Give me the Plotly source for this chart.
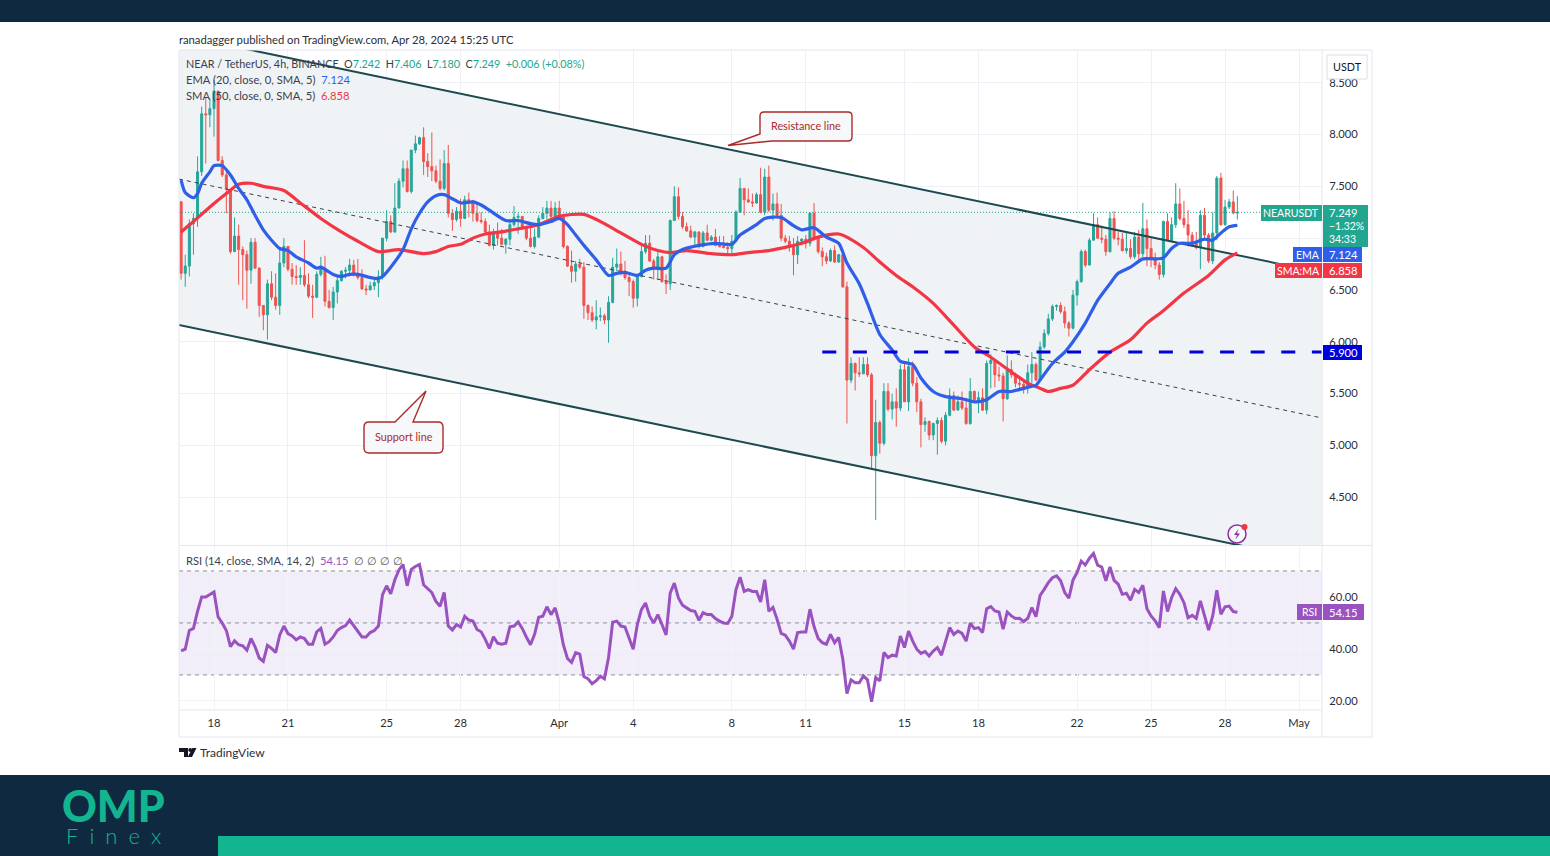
import plotly.graph_objects as go
from datetime import datetime, timedelta

FIRST_CANDLE = datetime(2024, 3, 16, 16, 0)
FIRST_OPEN = 7.35

closes = [
6.66,6.73,7.14,7.19,7.64,8.20,8.19,8.25,8.42,7.75,
7.61,7.47,6.87,7.02,6.89,6.84,6.69,6.96,6.71,6.35,
6.26,6.56,6.43,6.35,6.76,6.92,6.70,6.63,6.62,6.64,
6.55,6.44,6.43,6.65,6.71,6.39,6.33,6.48,6.59,6.68,
6.69,6.74,6.66,6.62,6.51,6.50,6.54,6.57,6.63,7.00,
7.16,7.06,7.29,7.55,7.67,7.45,7.85,7.91,7.97,7.74,
7.69,7.65,7.55,7.48,7.72,7.24,7.18,7.26,7.19,7.37,
7.36,7.24,7.17,7.16,7.06,6.93,7.06,7.00,6.94,6.99,
7.13,7.20,7.21,7.11,7.00,6.92,7.01,7.19,7.24,7.29,
7.21,7.29,7.21,6.92,6.73,6.68,6.75,6.72,6.35,6.28,
6.21,6.24,6.25,6.21,6.38,6.72,6.75,6.68,6.62,6.58,
6.42,6.63,6.87,6.95,6.78,6.72,6.82,6.58,6.56,7.17,
7.40,7.21,7.11,7.07,7.01,7.06,6.92,7.05,6.98,7.01,
6.93,6.92,6.91,6.90,6.97,7.25,7.48,7.37,7.35,7.34,
7.42,7.25,7.59,7.27,7.33,7.22,7.00,6.97,6.92,6.84,
6.97,6.99,6.95,7.24,7.00,6.87,6.82,6.78,6.88,6.77,
6.84,6.53,5.63,5.79,5.70,5.69,5.78,5.68,4.90,5.22,
5.02,5.52,5.35,5.42,5.36,5.73,5.42,5.76,5.60,5.42,
5.20,5.23,5.10,5.21,5.24,5.04,5.29,5.48,5.34,5.42,
5.36,5.21,5.52,5.44,5.46,5.34,5.79,5.82,5.68,5.67,
5.45,5.73,5.68,5.60,5.59,5.55,5.70,5.78,5.63,5.95,
6.08,6.22,6.34,6.35,6.29,6.18,6.13,6.45,6.58,6.87,
6.74,6.98,7.13,7.00,6.99,6.87,7.19,7.00,6.99,6.88,
6.90,6.82,7.01,6.85,7.09,6.90,6.80,6.74,6.65,7.16,
6.98,7.13,7.33,7.19,7.13,7.03,6.95,6.91,7.22,7.03,
6.78,7.05,7.58,7.13,7.30,7.35,7.242,7.249]

highs = [
7.36,6.84,7.18,7.24,7.79,8.27,8.35,8.35,8.53,8.40,
7.79,7.66,7.46,7.20,7.13,6.92,6.88,7.00,7.00,6.72,
6.35,6.60,6.68,6.66,6.90,7.00,6.90,6.76,6.74,6.72,
6.98,6.66,6.55,6.68,6.82,6.83,6.50,6.53,6.63,6.69,
6.72,6.80,6.79,6.80,6.70,6.55,6.58,6.61,6.69,7.00,
7.27,7.22,7.53,7.58,7.75,7.75,7.85,7.99,7.98,8.07,
7.82,8.02,7.70,7.76,7.85,7.90,7.28,7.30,7.38,7.41,
7.44,7.37,7.33,7.25,7.19,7.13,7.09,7.15,7.09,7.00,
7.18,7.31,7.24,7.21,7.12,7.11,7.09,7.22,7.30,7.36,
7.36,7.35,7.36,7.21,6.93,6.88,6.78,6.80,6.77,6.36,
6.34,6.40,6.33,6.27,6.44,6.81,6.90,6.87,6.78,6.67,
6.60,6.65,6.93,7.03,7.03,6.80,6.87,6.83,6.65,7.18,
7.50,7.49,7.25,7.15,7.12,7.07,7.05,7.07,7.13,7.03,
7.09,7.02,7.02,6.96,7.03,7.27,7.58,7.48,7.48,7.43,
7.44,7.68,7.67,7.70,7.43,7.44,7.33,7.03,7.02,7.00,
7.02,7.00,7.03,7.25,7.34,7.00,6.91,6.86,6.90,6.93,
6.85,6.85,6.58,5.85,5.80,5.85,5.85,5.85,5.70,5.44,
5.24,5.60,5.60,5.50,5.55,5.78,5.80,5.84,5.81,5.66,
5.45,5.27,5.24,5.22,5.27,5.27,5.32,5.55,5.52,5.48,
5.52,5.46,5.65,5.53,5.52,5.55,5.82,5.88,5.78,5.76,
5.70,5.87,5.82,5.70,5.66,5.62,5.78,5.90,5.80,6.00,
6.12,6.27,6.36,6.36,6.38,6.34,6.20,6.50,6.60,6.89,
6.89,7.00,7.24,7.20,7.12,7.03,7.25,7.26,7.06,7.05,
7.06,6.99,7.06,7.08,7.34,7.18,7.00,6.86,6.77,7.17,
7.24,7.20,7.53,7.48,7.36,7.27,7.06,7.06,7.27,7.29,
7.05,7.25,7.60,7.63,7.37,7.38,7.46,7.406]

lows = [
6.60,6.53,6.63,6.84,7.11,7.60,7.72,8.07,7.98,7.74,
7.59,7.24,6.85,6.87,6.55,6.40,6.32,6.56,6.71,6.24,
6.11,6.02,6.40,6.31,6.26,6.72,6.68,6.55,6.55,6.55,
6.53,6.42,6.23,6.42,6.63,6.34,6.32,6.21,6.37,6.58,
6.61,6.63,6.63,6.60,6.50,6.45,6.50,6.50,6.43,6.60,
6.97,7.05,7.05,7.29,7.49,7.44,7.43,7.82,7.90,7.61,
7.59,7.55,7.53,7.46,7.46,7.20,7.07,7.16,7.11,7.20,
7.20,7.16,7.15,7.14,7.05,6.92,6.89,6.93,6.93,6.85,
6.93,7.11,7.04,7.08,6.98,6.91,6.90,7.00,7.18,7.18,
7.19,7.18,7.19,6.90,6.72,6.57,6.58,6.70,6.22,6.21,
6.19,6.12,6.20,6.17,5.99,6.37,6.68,6.64,6.60,6.44,
6.33,6.34,6.62,6.85,6.77,6.60,6.60,6.57,6.46,6.50,
7.17,7.18,7.09,7.06,7.00,6.93,6.90,6.91,6.97,6.97,
6.92,6.91,6.90,6.83,6.85,6.96,7.25,7.22,7.34,7.30,
7.33,7.24,7.22,7.25,7.17,7.19,6.97,6.95,6.87,6.64,
6.75,6.93,6.90,6.92,6.98,6.85,6.73,6.75,6.77,6.76,
6.76,6.52,5.21,5.60,5.53,5.66,5.69,5.66,4.78,4.28,
4.92,5.00,5.33,5.25,5.18,5.33,5.42,5.33,5.57,5.32,
4.98,5.13,5.05,5.05,4.91,5.02,5.00,5.28,5.33,5.35,
5.34,5.20,5.20,5.42,5.31,5.33,5.30,5.55,5.56,5.62,
5.23,5.44,5.65,5.56,5.55,5.50,5.50,5.60,5.62,5.62,
5.93,6.06,6.20,6.30,6.27,6.13,6.05,6.12,6.35,6.57,
6.72,6.74,6.98,6.99,6.95,6.83,6.86,6.98,6.93,6.87,
6.85,6.80,6.80,6.79,6.82,6.73,6.72,6.70,6.60,6.62,
6.97,6.96,7.10,7.17,7.10,6.92,6.92,6.89,6.70,7.00,
6.76,6.75,6.98,7.12,7.12,7.28,7.23,7.18]

ema_candles = [0,1,3,4,5,7,8,10,12,14,16,18,20,22,24,26,28,31,33,34,37,39,41,43,46,48,49,51,54,56,58,60,62,64,66,68,71,
73,75,79,82,85,87,90,92,94,96,98,101,104,106,108,111,113,115,118,120,122,126,130,134,136,140,142,
146,149,151,154,157,160,162,165,167,170,173,175,178,180,183,186,190,193,196,199,202,206,208,
209,212,215,217,220,223,226,228,231,234,237,239,241,243,246,249,251,253,255,257]
ema_values = [7.56,7.44,7.39,7.43,7.53,7.64,7.70,7.70,7.61,7.48,7.37,7.22,7.08,6.98,6.90,6.88,6.82,6.76,6.71,6.72,6.65,6.63,6.65,6.65,6.62,6.61,6.63,6.72,6.89,7.09,7.24,7.35,7.41,7.42,7.38,7.34,7.35,
7.32,7.27,7.17,7.17,7.14,7.13,7.16,7.19,7.13,7.03,6.93,6.79,6.64,6.66,6.67,6.64,6.69,6.71,6.71,6.84,6.89,6.93,6.95,6.94,7.03,7.13,7.19,
7.20,7.12,7.08,7.10,7.01,6.95,6.76,6.56,6.37,6.07,5.92,5.81,5.78,5.65,5.52,5.47,5.45,5.42,5.44,5.52,5.52,5.56,5.58,
5.63,5.79,5.90,6.00,6.18,6.40,6.56,6.66,6.72,6.80,6.80,6.81,6.90,6.95,6.95,6.99,6.98,7.05,7.11,7.124]

sma_candles = [0,3,7,11,14,17,20,25,29,34,39,43,48,53,59,62,65,68,71,74,78,82,87,92,98,103,107,112,116,119,123,129,134,138,143,
148,151,155,160,166,170,174,178,183,188,193,197,203,206,209,211,214,217,221,226,231,235,239,244,250,254,257]
sma_values = [7.06,7.16,7.30,7.43,7.52,7.53,7.50,7.46,7.34,7.19,7.06,6.97,6.87,6.89,6.85,6.87,6.92,6.94,7.00,7.04,7.06,7.09,7.13,7.21,7.23,7.14,7.05,6.94,6.88,6.86,6.88,6.85,6.84,6.86,6.88,
6.92,6.95,7.01,7.04,6.91,6.77,6.64,6.53,6.37,6.16,5.95,5.85,5.68,5.60,5.55,5.52,5.55,5.58,5.73,5.90,6.02,6.18,6.30,6.47,6.64,6.79,6.858]

rsi_values = [
39.3,39.9,47.1,47.9,54.5,60.0,60.0,60.9,61.9,52.3,
50.0,47.1,40.9,43.1,41.6,41.2,39.5,44.0,40.8,36.5,
35.2,41.4,40.2,38.6,45.4,48.8,45.9,45.0,43.5,44.6,
44.0,41.8,41.8,46.6,47.9,41.8,42.8,44.6,47.1,48.2,
49.0,51.1,49.0,47.1,44.6,44.6,46.3,47.1,48.8,60.9,
64.3,61.2,66.6,70.4,72.5,64.3,70.6,71.7,72.5,64.7,
63.0,61.7,58.3,56.4,61.7,48.8,47.3,49.4,48.4,52.5,
51.1,50.7,47.5,46.6,43.7,40.2,44.7,42.2,41.8,42.2,
48.5,48.8,50.4,47.9,44.6,41.6,45.6,52.2,52.6,56.2,
53.2,55.8,50.0,41.6,36.3,34.8,38.6,38.0,29.4,28.5,
26.6,27.8,29.5,28.5,36.7,50.3,50.7,48.8,48.4,44.3,
39.9,49.4,55.1,57.7,52.6,50.0,53.2,49.4,45.4,61.5,
65.3,59.6,56.8,55.8,54.8,54.5,51.0,53.9,53.2,53.2,
51.7,50.7,50.0,49.8,52.6,62.8,67.6,62.1,62.8,62.1,
62.1,58.1,66.6,54.5,56.0,51.4,46.0,45.3,43.0,39.9,
46.3,46.5,46.5,55.3,48.6,44.0,42.4,41.8,45.6,42.4,
44.4,36.0,22.8,28.1,27.0,27.0,29.6,28.1,19.7,29.0,
27.7,38.6,36.7,37.6,37.3,45.0,40.5,46.9,43.0,39.9,
38.3,39.0,37.3,39.2,40.5,37.6,43.0,48.2,45.6,46.9,
46.0,43.0,49.9,47.8,48.2,46.3,55.5,56.3,54.6,54.2,
47.6,54.2,52.7,51.7,51.8,50.5,51.8,55.9,52.4,60.6,
62.9,65.5,67.4,68.1,66.2,61.7,59.5,66.5,69.4,73.8,
72.3,74.9,76.7,72.2,71.5,66.2,71.5,66.4,64.9,61.0,
61.4,58.7,62.9,61.7,64.5,55.5,52.7,50.8,48.2,62.3,
54.4,59.7,63.2,61.0,57.8,52.0,52.9,51.7,58.5,53.3,
47.2,52.7,62.6,53.3,56.2,56.5,54.4,54.15]

x_tick_dates = ["2024-03-18","2024-03-21","2024-03-25","2024-03-28","2024-04-01","2024-04-04","2024-04-08",
                "2024-04-11","2024-04-15","2024-04-18","2024-04-22","2024-04-25","2024-04-28","2024-05-01"]
x_tick_labels = ["18","21","25","28","Apr","4","8","11","15","18","22","25","28","May"]
price_ticks = [4.5,5.0,5.5,6.0,6.5,7.0,7.5,8.0,8.5]
price_tick_labels = ["4.500","5.000","5.500","6.000","6.500","","7.500","8.000","8.500"]
rsi_ticks = [20,40,60]
rsi_tick_labels = ["20.00","40.00","60.00"]
rsi_band = [30,50,70]

view_x = ["2024-03-16 13:56:00","2024-05-01 22:22:00"]
channel_resistance = [8.96,6.666]
channel_support = [6.161,3.87]
channel_median = [7.57,5.264]
level_x = ["2024-04-11 16:00:00","2024-05-01 22:22:00"]
level_price = [5.9,5.9]
last_close = [7.249,7.249]

FONT = "Lato"
UP, DOWN = "#26A69A", "#EF5350"
BLUE, RED, PURPLE = "#2F5FE8", "#F23645", "#9A52C0"
TEAL_TAG, DARK, GREEN = "#22A68F", "#0F2A40", "#12B590"
CHANNEL = "#1D4A50"

def when(i):
    return (FIRST_CANDLE + timedelta(hours=4*i)).strftime("%Y-%m-%d %H:%M:%S")

candle_x = [when(i) for i in range(len(closes))]
opens = [FIRST_OPEN] + closes[:-1]

def X(p): return p/1550
def Y(p): return 1 - p/856

fig = go.Figure()
fig.add_trace(go.Candlestick(x=candle_x, open=opens, high=highs, low=lows, close=closes,
    xaxis="x", yaxis="y", whiskerwidth=0,
    increasing=dict(line=dict(color=UP, width=1), fillcolor=UP),
    decreasing=dict(line=dict(color=DOWN, width=1), fillcolor=DOWN)))
fig.add_trace(go.Scatter(x=view_x, y=last_close, mode="lines", xaxis="x", yaxis="y",
    line=dict(color="#22A68F", width=1, dash="1px,2px")))
fig.add_trace(go.Scatter(x=view_x, y=channel_median, mode="lines", xaxis="x", yaxis="y",
    line=dict(color="#3A3F48", width=1, dash="4px,4px")))
fig.add_trace(go.Scatter(x=view_x, y=channel_resistance, mode="lines", xaxis="x", yaxis="y",
    line=dict(color=CHANNEL, width=2)))
fig.add_trace(go.Scatter(x=view_x, y=channel_support, mode="lines", xaxis="x", yaxis="y",
    line=dict(color=CHANNEL, width=2)))
fig.add_trace(go.Scatter(x=[when(i) for i in sma_candles], y=sma_values, mode="lines", xaxis="x", yaxis="y",
    line=dict(color=RED, width=3.2, shape="spline", smoothing=0.7)))
fig.add_trace(go.Scatter(x=[when(i) for i in ema_candles], y=ema_values, mode="lines", xaxis="x", yaxis="y",
    line=dict(color=BLUE, width=3.2, shape="spline", smoothing=0.7)))
fig.add_trace(go.Scatter(x=level_x, y=level_price, mode="lines", xaxis="x", yaxis="y",
    line=dict(color="#0000DD", width=3, dash="14px,16.6px")))
fig.add_trace(go.Scatter(x=candle_x, y=rsi_values, mode="lines", xaxis="x2", yaxis="y2",
    line=dict(color=PURPLE, width=3)))

shapes, notes = [], []

def rect(x0, y0, x1, y1, fill, line=None, layer="above", lw=1):
    shapes.append(dict(type="rect", xref="paper", yref="paper", x0=X(x0), x1=X(x1), y0=Y(y0), y1=Y(y1),
        fillcolor=fill, line=dict(color=line or "rgba(0,0,0,0)", width=lw if line else 0), layer=layer))

def path(points, fill="rgba(0,0,0,0)", line=None, lw=1, layer="above"):
    parts = []
    for cmd, *vals in points:
        if cmd == "Z":
            parts.append("Z")
        else:
            coords = " ".join(f"{X(vals[k]):.5f},{Y(vals[k+1]):.5f}" for k in range(0, len(vals), 2))
            parts.append(f"{cmd} {coords}")
    shapes.append(dict(type="path", xref="paper", yref="paper", path=" ".join(parts), fillcolor=fill,
        line=dict(color=line or "rgba(0,0,0,0)", width=lw if line else 0), layer=layer))

def text(x, y, s, color="#131722", size=11.2, anchor="left", family=FONT, weight=None):
    font = dict(family=family, size=size, color=color)
    if weight:
        font["weight"] = weight
    notes.append(dict(xref="paper", yref="paper", x=X(x), y=Y(y), text=s, showarrow=False,
        xanchor=anchor, yanchor="middle", font=font, align="left", borderpad=0))

def circle(cx, cy, r, fill, line=None, lw=1):
    shapes.append(dict(type="circle", xref="paper", yref="paper", x0=X(cx-r), x1=X(cx+r), y0=Y(cy-r), y1=Y(cy+r),
        fillcolor=fill, line=dict(color=line or "rgba(0,0,0,0)", width=lw if line else 0), layer="above"))

def data_path(pairs):
    body = " L ".join(f"{d.replace(' ', '_')},{p}" for d, p in pairs)
    return "M " + body + " Z"

# page bands
rect(0, 0, 1550, 22, DARK)
rect(0, 775, 1550, 856, DARK)
rect(218, 836, 1550, 856, GREEN)

# channel fill and RSI band, under the marks
shapes.append(dict(type="path", xref="x", yref="y", layer="below", fillcolor="rgba(120,150,165,0.11)",
    line=dict(width=0),
    path=data_path([(view_x[0], channel_resistance[0]), (view_x[1], channel_resistance[1]),
                    (view_x[1], channel_support[1]), (view_x[0], channel_support[0])])))
shapes.append(dict(type="rect", xref="x2", yref="y2", layer="below", x0=view_x[0], x1=view_x[1],
    y0=rsi_band[0], y1=rsi_band[2], fillcolor="rgba(126,87,194,0.10)", line=dict(width=0)))
for v in rsi_band:
    shapes.append(dict(type="line", xref="x2", yref="y2", layer="below", x0=view_x[0], x1=view_x[1], y0=v, y1=v,
        line=dict(color="#8A8D96", width=1, dash="4px,4px")))

# pane frame
for seg in [(179,50,1372,50),(179,737,1372,737),(179,50,179,737),(1372,50,1372,737),(1322,50,1322,737),(179,545.5,1372,545.5),(179,710,1322,710)]:
    shapes.append(dict(type="line", xref="paper", yref="paper", x0=X(seg[0]), x1=X(seg[2]), y0=Y(seg[1]), y1=Y(seg[3]),
        line=dict(color="#E4E7EE", width=1), layer="above"))

# USDT box
rect(1327, 55, 1367, 79, "#FFFFFF", "#DADDE5")
text(1347, 66, "USDT", size=10.8, anchor="center")

# right-hand tags
rect(1261, 205, 1322, 221, TEAL_TAG)
rect(1323, 205, 1368, 247, TEAL_TAG)
text(1290.5, 213, "NEARUSDT", "#FFFFFF", 10.5, "center")
text(1328, 212.5, "7.249", "#FFFFFF", 11.2)
text(1328, 226, "−1.32%", "#FFFFFF", 10.5)
text(1328, 239, "34:33", "#FFFFFF", 10.5)
rect(1293, 247, 1322, 262, BLUE)
rect(1323, 247, 1362, 262, BLUE)
text(1307.5, 254.5, "EMA", "#FFFFFF", 10.5, "center")
text(1328, 254.5, "7.124", "#FFFFFF", 11.2)
rect(1275, 263, 1322, 278, RED)
rect(1323, 263, 1362, 278, RED)
text(1298.5, 270.5, "SMA:MA", "#FFFFFF", 10.5, "center")
text(1328, 270.5, "6.858", "#FFFFFF", 11.2)
rect(1323, 345, 1362, 360, "#0000DD")
text(1328, 352.5, "5.900", "#FFFFFF", 11.2)
rect(1297, 604, 1322, 620, PURPLE)
rect(1323, 604, 1364, 620, PURPLE)
text(1309.5, 612, "RSI", "#FFFFFF", 10.5, "center")
text(1328, 612, "54.15", "#FFFFFF", 11.2)

# callouts
CALL = "#A92B2B"
path([("M",764,112),("L",848,112),("Q",852,112,852,116),("L",852,137),("Q",852,141,848,141),("L",772,141),
      ("L",728,145.5),("L",760,134),("L",760,116),("Q",760,112,764,112),("Z",)], "#F7F8FA", CALL, 1.4)
text(806, 126, "Resistance line", "#A92B2B", 10.8, "center")
path([("M",369,422),("L",395,422),("L",426,391),("L",413,422),("L",438,422),("Q",443,422,443,427),("L",443,448),
      ("Q",443,453,438,453),("L",369,453),("Q",364,453,364,448),("L",364,427),("Q",364,422,369,422),("Z",)],
     "#F7F8FA", CALL, 1.4)
text(403.5, 437, "Support line", "#A92B2B", 10.8, "center")

# flash icon
circle(1237, 534, 9, "rgba(255,255,255,0.4)", "#8E2FA8", 1.5)
path([("M",1238.5,529),("L",1234,535),("L",1237,535),("L",1235.5,539.5),("L",1240,533.5),("L",1237,533.5),("Z",)], "#8E2FA8")
circle(1244.5, 527, 3, "#F23645")

# header and legends
text(178, 39, "ranadagger published on TradingView.com, Apr 28, 2024 15:25 UTC", "#2A2E39", 11.25)
v = f"color:{TEAL_TAG}"
gap = "\u2002"
text(185, 63, f'NEAR / TetherUS, 4h, BINANCE{gap}O<span style="{v}">7.242</span>{gap}H<span style="{v}">7.406</span>{gap}'
              f'L<span style="{v}">7.180</span>{gap}C<span style="{v}">7.249</span>{gap}<span style="{v}">+0.006 (+0.08%)</span>', "#3A3F4B", 10.8)
text(185, 79, f'EMA (20, close, 0, SMA, 5)  <span style="color:{BLUE}">7.124</span>', "#3A3F4B", 11.2)
text(185, 95, f'SMA (50, close, 0, SMA, 5)  <span style="color:{RED}">6.858</span>', "#3A3F4B", 11.2)
text(185, 560, f'RSI (14, close, SMA, 14, 2)  <span style="color:{PURPLE}">54.15</span>  '
               f'<span style="color:#555">∅ ∅ ∅ ∅</span>', "#3A3F4B", 11.2)

# TradingView mark
path([("M",179,748),("L",188,748),("L",188,757),("L",184,757),("L",184,752),("L",179,752),("Z",)], "#131722")
path([("M",196.5,748),("L",192,757),("L",187.8,757),("L",192.4,748),("Z",)], "#131722")
circle(190.2, 750, 1.9, "#131722")
text(199, 752.5, "TradingView", "#2A2E39", 12)

# OMP Finex mark
text(113, 805, "OMP", GREEN, 43, "center", "Lato", 900)
text(113, 835, "F\u2002i\u2002n\u2002e\u2002x", GREEN, 22, "center", "Lato", 300)

fig.update_layout(
    width=1550, height=856, autosize=False, showlegend=False, hovermode=False,
    margin=dict(l=0, r=0, t=0, b=0), paper_bgcolor="#FFFFFF", plot_bgcolor="#FFFFFF",
    font=dict(family=FONT, size=11.2, color="#2A2E39"),
    shapes=shapes, annotations=notes,
    xaxis=dict(domain=[X(179), X(1322)], range=view_x, type="date", anchor="y", rangeslider=dict(visible=False),
               tickvals=x_tick_dates, ticktext=x_tick_labels, showticklabels=False, ticks="",
               showgrid=True, gridcolor="#EEF0F5", gridwidth=1, zeroline=False),
    yaxis=dict(domain=[Y(545), Y(50)], range=[4.038, 8.816], anchor="x", side="right",
               tickvals=price_ticks, ticktext=price_tick_labels, ticks="outside", ticklen=4, tickcolor="rgba(0,0,0,0)",
               showgrid=True, gridcolor="#EEF0F5", gridwidth=1, zeroline=False, tickfont=dict(size=11.2, color="#2A2E39")),
    xaxis2=dict(domain=[X(179), X(1322)], range=view_x, type="date", anchor="y2",
                tickvals=x_tick_dates, ticktext=x_tick_labels, ticks="outside", ticklen=3, tickcolor="rgba(0,0,0,0)",
                showgrid=True, gridcolor="#F1F3F7", gridwidth=1, zeroline=False, tickfont=dict(size=11.2, color="#2A2E39")),
    yaxis2=dict(domain=[Y(710), Y(546)], range=[16.5, 79.6], anchor="x2", side="right",
                tickvals=rsi_ticks, ticktext=rsi_tick_labels, ticks="outside", ticklen=4, tickcolor="rgba(0,0,0,0)",
                showgrid=True, gridcolor="#F1F3F7", gridwidth=1, zeroline=False, tickfont=dict(size=11.2, color="#2A2E39")),
)

fig.write_html("out.html", config=dict(displayModeBar=False, staticPlot=True),
               post_script="document.body.style.margin='0';document.body.style.overflow='hidden';")
